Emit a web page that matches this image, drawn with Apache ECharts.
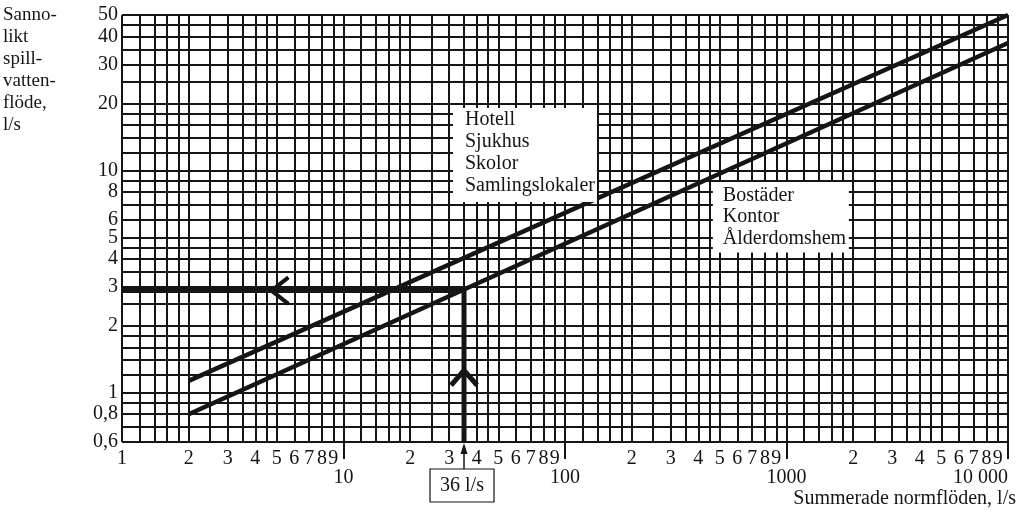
<!DOCTYPE html>
<html>
<head>
<meta charset="utf-8">
<script src="https://cdn.jsdelivr.net/npm/echarts@6/dist/echarts.min.js"></script>
<style>
html,body{margin:0;padding:0;background:#fff;}
#chart{width:1024px;height:519px;}
</style>
</head>
<body>
<div id="chart"></div>
<script>
// ---- Data ----
// Grid line pattern of the log-log paper (per decade)
const gridMantissas = [1, 1.2, 1.4, 1.6, 1.8, 2, 2.5, 3, 3.5, 4, 4.5, 5, 6, 7, 8, 9];
const xDecades = [1, 10, 100, 1000];
const xGridEnd = [10000];
const yGridLow = [0.6, 0.7, 0.8, 0.9];
const yDecades = [1];
const yGridHigh = [10, 12, 14, 16, 18, 20, 25, 30, 35, 40, 45, 50];

// Tick labels
const yTickValues = [0.6, 0.8, 1, 2, 3, 4, 5, 6, 8, 10, 20, 30, 40, 50];
const xTickMantissas = [2, 3, 4, 5, 6, 7, 8, 9];
const xMajorTicks = [10, 100, 1000, 10000];
const xEndLabel = [10000];

// Curves (Summerade normflöden -> Sannolikt spillvattenflöde)
const upperLine = [[2, 1.13], [10000, 50]];   // Hotell, Sjukhus, Skolor, Samlingslokaler
const lowerLine = [[2, 0.8], [10000, 37.4]];  // Bostäder, Kontor, Ålderdomshem

// Example reading: 36 l/s
const exampleX = 35;
const exampleY = 2.88;
const examplePath = [[exampleX, 0.6], [exampleX, exampleY], [1, exampleY]];
const chevronUp = [[30.6, 1.08], [exampleX, 1.26], [40.1, 1.08]];
const chevronLeft = [[5.64, 3.3], [4.73, exampleY], [5.64, 2.51]];

const hotelGroup = ['Hotell', 'Sjukhus', 'Skolor', 'Samlingslokaler'];
const housingGroup = ['Bostäder', 'Kontor', 'Ålderdomshem'];
const hotelAnchor = [31.2, 19.1];
const housingAnchor = [465, 8.87];

const yTitle = ['Sanno-', 'likt', 'spill-', 'vatten-', 'flöde,', 'l/s'];
const xTitle = 'Summerade normflöden, l/s';
const exampleLabel = '36 l/s';

// ---- Derived ----
const xGridLines = xDecades.flatMap(d => gridMantissas.map(m => +(m * d).toPrecision(6))).concat(xGridEnd);
const yGridLines = yGridLow.concat(yDecades.flatMap(d => gridMantissas.map(m => +(m * d).toPrecision(6)))).concat(yGridHigh);
const xLabelValues = [1].concat(xDecades.flatMap(d => xTickMantissas.map(m => m * d))).concat([10, 100, 1000]).sort((a, b) => a - b);

const INK = '#151515';
const FONT = '"Liberation Serif", "DejaVu Serif", serif';
const FS = 20;

const chart = echarts.init(document.getElementById('chart'), null, {renderer: 'canvas'});

const option = {
  animation: false,
  backgroundColor: '#fff',
  grid: {left: 122, right: 16, top: 15, bottom: 77, containLabel: false, outerBoundsMode: 'none'},
  xAxis: [
    {
      type: 'log', logBase: 10, min: 1, max: 10000, position: 'bottom', offset: 0,
      axisLine: {show: false},
      splitLine: {show: false},
      minorSplitLine: {show: false},
      axisTick: {show: true, customValues: xMajorTicks, length: 17, inside: false,
        lineStyle: {color: INK, width: 2}},
      axisLabel: {
        customValues: xLabelValues,
        margin: 7,
        showMinLabel: true, showMaxLabel: true, hideOverlap: false,
        fontFamily: FONT, fontSize: FS, color: INK, lineHeight: 19,
        formatter: function (v) {
          const r = Math.round(v);
          if (r === 1) return '1';
          if (r === 10 || r === 100 || r === 1000) return '\n' + r;
          const p = Math.pow(10, Math.floor(Math.log10(r) + 1e-9));
          return String(Math.round(r / p));
        }
      }
    },
    {
      type: 'log', logBase: 10, min: 1, max: 10000, position: 'bottom', offset: 0,
      axisLine: {show: false},
      splitLine: {show: false},
      axisTick: {show: false},
      axisLabel: {
        customValues: xEndLabel,
        margin: 7,
        showMaxLabel: true,
        alignMinLabel: 'right',
        alignMaxLabel: 'right',
        align: 'right',
        fontFamily: FONT, fontSize: FS, color: INK, lineHeight: 19,
        formatter: function () { return '\n10 000'; }
      }
    }
  ],
  yAxis: {
    type: 'log', logBase: 10, min: 0.6, max: 50,
    axisLine: {show: false},
    splitLine: {show: false},
    axisTick: {show: false},
    axisLabel: {
      customValues: yTickValues,
      margin: 4,
      showMinLabel: true, showMaxLabel: true, hideOverlap: false,
      fontFamily: FONT, fontSize: FS, color: INK,
      formatter: function (v) { return String(+v.toPrecision(4)).replace('.', ','); }
    }
  },
  series: [
    {
      name: 'grid', type: 'line', data: [], silent: true, z: 1,
      markLine: {
        silent: true, symbol: 'none', animation: false,
        label: {show: false},
        emphasis: {disabled: true},
        lineStyle: {color: INK, width: 2, type: 'solid', opacity: 1},
        data: xGridLines.map(v => ({xAxis: v})).concat(yGridLines.map(v => ({yAxis: v})))
      }
    },
    {
      name: 'upper', type: 'line', data: upperLine, symbol: 'none', z: 3, silent: true,
      lineStyle: {color: INK, width: 4.5}
    },
    {
      name: 'lower', type: 'line', data: lowerLine, symbol: 'none', z: 3, silent: true,
      lineStyle: {color: INK, width: 4.5}
    },
    {
      name: 'example', type: 'line', data: examplePath, symbol: 'none', z: 4, silent: true,
      lineStyle: {color: INK, width: 5, join: 'miter'}
    },
    {
      name: 'chevronUp', type: 'line', data: chevronUp, symbol: 'none', z: 4, silent: true,
      lineStyle: {color: INK, width: 5}
    },
    {
      name: 'chevronLeft', type: 'line', data: chevronLeft, symbol: 'none', z: 4, silent: true,
      lineStyle: {color: INK, width: 4}
    },
    {
      name: 'labels', type: 'scatter', symbolSize: 0, z: 10, silent: true,
      itemStyle: {opacity: 1},
      data: [
        {value: hotelAnchor, label: {formatter: hotelGroup.join('\n'), padding: [1, 12, 5, 12], width: 120, lineHeight: 22}},
        {value: housingAnchor, label: {formatter: housingGroup.join('\n'), padding: [3, 8, 3, 10], width: 118, lineHeight: 21.5}}
      ],
      label: {
        show: true, position: [0, 0], align: 'left', verticalAlign: 'top', opacity: 1,
        backgroundColor: '#fff', color: INK, fontFamily: FONT, fontSize: FS,
        textBorderWidth: 0
      }
    }
  ],
  graphic: [
    {
      type: 'text', left: 3, top: 4,
      style: {text: yTitle.join('\n'), font: '19px ' + FONT, fill: INK, lineHeight: 22}
    },
    {
      type: 'text', right: 8, top: 489,
      style: {text: xTitle, font: FS + 'px ' + FONT, fill: INK}
    }
  ]
};
chart.setOption(option);

// "36 l/s" box with the small pointer below the axis
const px = chart.convertToPixel({xAxisIndex: 0}, exampleX);
chart.setOption({
  graphic: option.graphic.concat([
    {
      type: 'rect', shape: {x: px - 34, y: 469, width: 64, height: 33},
      style: {fill: '#fff', stroke: INK, lineWidth: 1.2}
    },
    {
      type: 'text', x: px - 2, y: 486,
      style: {text: exampleLabel, font: FS + 'px ' + FONT, fill: INK, align: 'center', verticalAlign: 'middle'}
    },
    {
      type: 'line', shape: {x1: px, y1: 469, x2: px, y2: 452},
      style: {stroke: INK, lineWidth: 1.5}
    },
    {
      type: 'polygon', shape: {points: [[px, 443], [px - 3.5, 454], [px + 3.5, 454]]},
      style: {fill: INK}
    }
  ])
});
</script>
</body>
</html>
